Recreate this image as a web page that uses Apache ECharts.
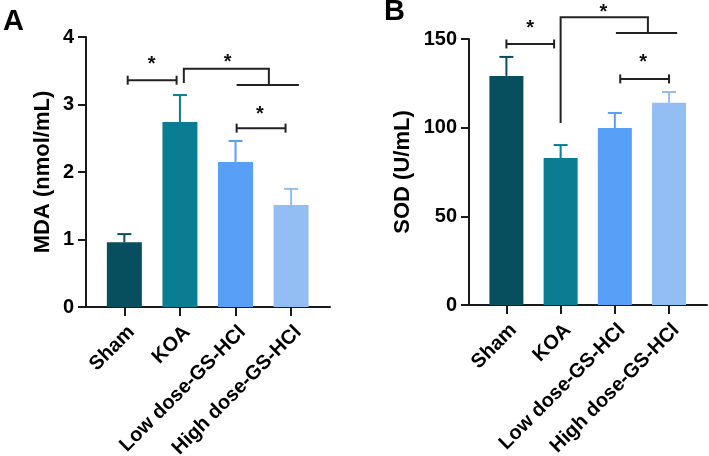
<!DOCTYPE html>
<html><head><meta charset="utf-8">
<script src="https://cdn.jsdelivr.net/npm/echarts@6/dist/echarts.min.js"></script>
<style>html,body{margin:0;padding:0;background:#fff}#c{width:709px;height:456px}</style>
</head><body><div id="c"></div>
<script>
const categories = ['Sham', 'KOA', 'Low dose-GS-HCl', 'High dose-GS-HCl'];
const barColors = ['#074F5F', '#0A7D93', '#579FF7', '#93BEF4'];
const mdaMean = [0.96, 2.74, 2.15, 1.51];
const mdaUpper = [1.08, 3.14, 2.46, 1.75];
const sodMean = [129.2, 82.9, 99.8, 114.0];
const sodUpper = [139.9, 90.2, 108.3, 120.1];
const mdaTicks = [0, 1, 2, 3, 4];
const sodTicks = [0, 50, 100, 150];
// significance brackets: polyline points in data units, caps = end ticks
const mdaBrackets = [
  {pts: [[0.06, 3.36], [0.94, 3.36]], caps: true},
  {pts: [[1.07, 3.32], [1.07, 3.53], [2.6, 3.53], [2.6, 3.29]], caps: false},
  {pts: [[2.02, 3.29], [3.14, 3.29]], caps: false},
  {pts: [[2.02, 2.65], [2.9, 2.65]], caps: true}
];
const sodBrackets = [
  {pts: [[0.0, 147.2], [0.88, 147.2]], caps: true},
  {pts: [[1.0, 102.6], [1.0, 162.2], [2.61, 162.2], [2.61, 153.4]], caps: false},
  {pts: [[2.02, 153.4], [3.15, 153.4]], caps: false},
  {pts: [[2.1, 127.5], [3.0, 127.5]], caps: true}
];
const mdaStars = [[0.49, 3.67], [1.86, 3.70], [2.44, 2.93]];
const sodStars = [[0.44, 158.5], [1.79, 168.0], [2.52, 139.3]];

const FONT = 'Arial, "Liberation Sans", sans-serif';
const AX = '#1a1a1a';
const catIdx = [0, 1, 2, 3];

function xAxisCfg(grid) {
  return {
    type: 'value', gridIndex: grid, min: -0.69, max: 3.7,
    splitLine: {show: false},
    axisLine: {onZero: false, lineStyle: {color: AX, width: 2}},
    axisTick: {customValues: catIdx, length: 9, lineStyle: {color: AX, width: 2}},
    axisLabel: {customValues: catIdx, formatter: v => categories[Math.round(v)] || '',
      rotate: 45, fontSize: 20, fontWeight: 'bold', color: '#000', fontFamily: FONT,
      margin: 15, verticalAlign: 'top'}
  };
}
function yAxisCfg(grid, max, interval, name, gap) {
  return {
    type: 'value', gridIndex: grid, min: 0, max: max, interval: interval,
    name: name, nameLocation: 'middle', nameGap: gap,
    nameTextStyle: {fontSize: 22, fontWeight: 'bold', color: '#000', fontFamily: FONT},
    splitLine: {show: false},
    axisLine: {show: true, onZero: false, lineStyle: {color: AX, width: 2}},
    axisTick: {show: true, length: 8, lineStyle: {color: AX, width: 2}},
    axisLabel: {fontSize: 20, fontWeight: 'bold', color: '#000', fontFamily: FONT, margin: 12}
  };
}
function barSeries(grid, means, width) {
  return {
    type: 'bar', xAxisIndex: grid, yAxisIndex: grid, barWidth: width,
    data: means.map((v, i) => ({value: [i, v], itemStyle: {color: barColors[i]}})),
    z: 2
  };
}
function errSeries(grid, means, uppers) {
  return {
    type: 'custom', xAxisIndex: grid, yAxisIndex: grid, z: 3,
    data: means.map((v, i) => [i, v, uppers[i]]),
    renderItem: function (params, api) {
      const i = api.value(0);
      const p0 = api.coord([i, api.value(1)]);
      const p1 = api.coord([i, api.value(2)]);
      const col = barColors[i];
      const st = {stroke: col, lineWidth: 2};
      return {type: 'group', children: [
        {type: 'line', shape: {x1: p0[0], y1: p0[1], x2: p1[0], y2: p1[1]}, style: st},
        {type: 'line', shape: {x1: p1[0] - 7, y1: p1[1], x2: p1[0] + 7, y2: p1[1]}, style: st}
      ]};
    }
  };
}
function bracketSeries(grid, brackets) {
  return {
    type: 'custom', xAxisIndex: grid, yAxisIndex: grid, z: 4, clip: false,
    data: brackets.map((b, i) => [i]),
    renderItem: function (params, api) {
      const b = brackets[params.dataIndex];
      const pts = b.pts.map(p => api.coord(p));
      const st = {stroke: '#222', lineWidth: 2, fill: null};
      const ch = [{type: 'polyline', shape: {points: pts}, style: st}];
      if (b.caps) {
        [pts[0], pts[pts.length - 1]].forEach(p => {
          ch.push({type: 'line', shape: {x1: p[0], y1: p[1] - 4.5, x2: p[0], y2: p[1] + 4.5}, style: st});
        });
      }
      return {type: 'group', children: ch};
    }
  };
}
function starSeries(grid, stars) {
  return {
    type: 'custom', xAxisIndex: grid, yAxisIndex: grid, z: 5, clip: false,
    data: stars,
    renderItem: function (params, api) {
      const p = api.coord([api.value(0), api.value(1)]);
      return {type: 'text', x: p[0], y: p[1] + 5,
        style: {text: '*', fontSize: 20, fontWeight: 'bold', fontFamily: FONT, fill: '#111',
          align: 'center', verticalAlign: 'middle'}};
    }
  };
}

const chart = echarts.init(document.getElementById('c'), null, {renderer: 'canvas'});
chart.setOption({
  animation: false,
  backgroundColor: '#fff',
  grid: [
    {left: 86, right: 379, top: 37, bottom: 149, containLabel: false, outerBoundsMode: 'none'},
    {left: 469, right: 2, top: 39, bottom: 151, containLabel: false, outerBoundsMode: 'none'}
  ],
  xAxis: [xAxisCfg(0), xAxisCfg(1)],
  yAxis: [yAxisCfg(0, mdaTicks[mdaTicks.length - 1], 1, 'MDA (nmol/mL)', 32),
          yAxisCfg(1, sodTicks[sodTicks.length - 1], 50, 'SOD (U/mL)', 55)],
  graphic: [
    {type: 'text', left: 3, top: 7, style: {text: 'A', fontSize: 29, fontWeight: 'bold', fontFamily: FONT, fill: '#000'}},
    {type: 'text', left: 384, top: -3, style: {text: 'B', fontSize: 29, fontWeight: 'bold', fontFamily: FONT, fill: '#000'}}
  ],
  series: [
    barSeries(0, mdaMean, 35), errSeries(0, mdaMean, mdaUpper), bracketSeries(0, mdaBrackets), starSeries(0, mdaStars),
    barSeries(1, sodMean, 34), errSeries(1, sodMean, sodUpper), bracketSeries(1, sodBrackets), starSeries(1, sodStars)
  ]
});
</script></body></html>
